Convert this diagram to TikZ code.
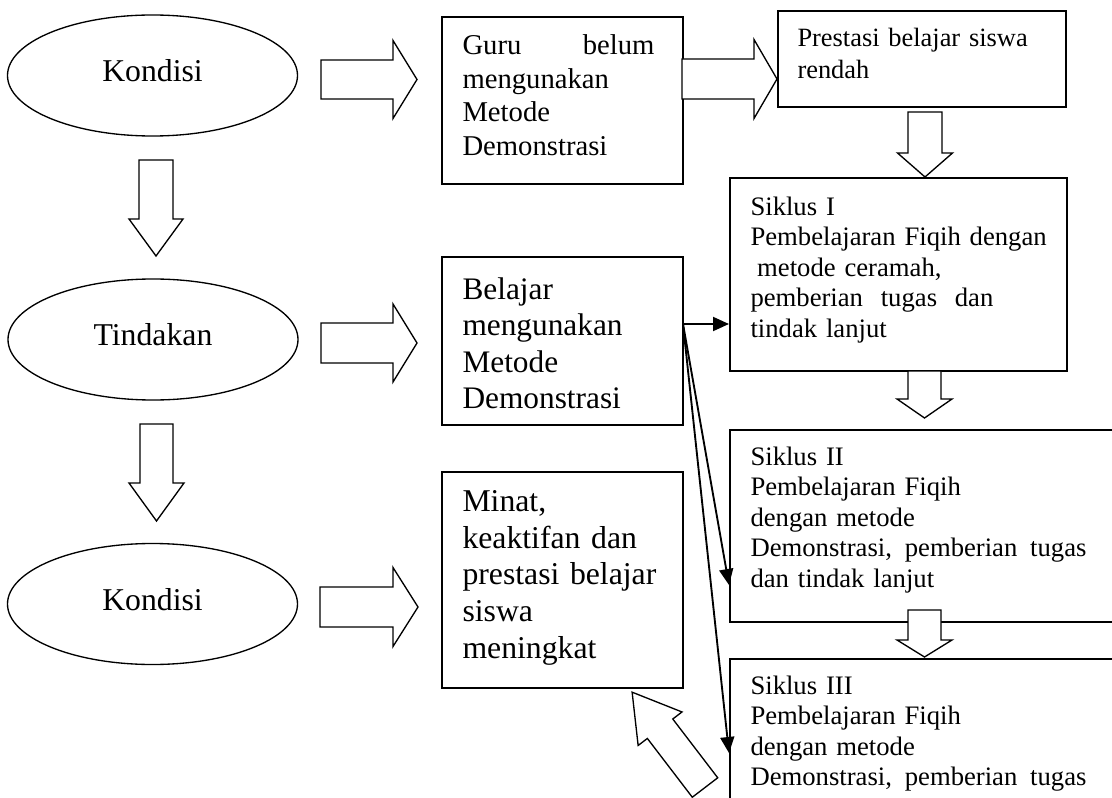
\documentclass[tikz,border=0pt]{standalone}
\usepackage{fontspec}
\setmainfont{Liberation Serif}
\usetikzlibrary{shapes.geometric,arrows.meta}

\tikzset{every picture/.style={line width=0.75pt}}
\tikzset{
  stage/.style={draw, ellipse, line width=1pt, inner sep=0pt,
    minimum width=217.5pt, minimum height=90.75pt,
    font=\fontsize{23.8pt}{27pt}\selectfont, text depth=7.5pt},
  box/.style={draw, line width=1.5pt, inner sep=0pt, anchor=north west},
  boxtext/.style={anchor=north west, inner sep=0pt, align=left},
  outline/.style={draw, fill=white, line width=1pt, line join=miter},
  link/.style={line width=1.4pt, -{Triangle[length=12pt,width=10.5pt]}},
  pics/hollow arrow/.style n args={4}{code={
    \draw[outline] (0,-#3) -- (#1-#2,-#3) -- (#1-#2,-#4) -- (#1,0)
      -- (#1-#2,#4) -- (#1-#2,#3) -- (0,#3) -- cycle;
  }},
}

\begin{document}
\begin{tikzpicture}[x=0.75pt,y=0.75pt,yscale=-1,xscale=1]
	\useasboundingbox (0,0) rectangle (1112,798);
	\clip (0,0) rectangle (1112,798);

	%Shape: Ellipse
	\node[stage] (kondisiA) at (152.5,75.5) {Kondisi};
	%Shape: Ellipse
	\node[stage] (tindakan) at (153,339.5) {Tindakan};
	%Shape: Ellipse
	\node[stage] (kondisiB) at (152.5,604) {Kondisi};

	%Shape: Rectangle
	\node[box, minimum width=180.75pt, minimum height=125.25pt] (guru) at (441,16) {};
	%Shape: Rectangle
	\node[box, minimum width=216pt, minimum height=72pt] (prestasi) at (777,10) {};
	%Shape: Rectangle
	\node[box, minimum width=252.75pt, minimum height=144.75pt] (siklusA) at (729,177) {};
	%Shape: Rectangle
	\node[box, minimum width=180.75pt, minimum height=126pt] (belajar) at (441,256) {};
	%Shape: Rectangle
	\node[box, minimum width=180.75pt, minimum height=162pt] (minat) at (441,471) {};
	%Shape: Rectangle
	\node[box, minimum width=300.75pt, minimum height=144pt] (siklusB) at (729,429) {};
	%Shape: Rectangle
	\node[box, minimum width=300.75pt, minimum height=144pt] (siklusC) at (729,658) {};

	%Right Arrow
	\pic at (321,79.5) {hollow arrow={96}{24}{19.5}{39}};
	%Right Arrow
	\pic at (321,343) {hollow arrow={96}{24}{20}{39}};
	%Right Arrow
	\pic at (320,607) {hollow arrow={98}{25}{20}{39.5}};
	%Right Arrow
	\pic at (682,79) {hollow arrow={95}{23}{20}{39.5}};
	%Down Arrow
	\pic[rotate=-90] at (156,160) {hollow arrow={96}{37}{17}{27}};
	%Down Arrow
	\pic[rotate=-90] at (156.5,424) {hollow arrow={97}{38}{16.5}{27.5}};
	%Down Arrow
	\pic[rotate=-90] at (925,112) {hollow arrow={65}{24}{17}{27.5}};
	%Down Arrow
	\pic[rotate=-90] at (924.5,371) {hollow arrow={47}{19}{16.5}{27.5}};
	%Down Arrow
	\pic[rotate=-90] at (924.5,610) {hollow arrow={47}{17}{16.5}{27.5}};
	%Up Arrow
	\pic[rotate=127.4] at (705,787.5) {hollow arrow={120}{46}{16}{27.6}};

	%Straight Lines
	\coordinate (fork) at (683,324);
	\draw[link] (fork) -- (siklusA.west |- fork);
	\draw[link] (fork) -- (siklusB.west |- 0,585);
	\draw[link] (fork) -- (siklusC.west |- 0,753);

	% Text Node
	\node[boxtext, text width=144pt, font=\fontsize{21.5pt}{25.3pt}\selectfont] (guruText) at (462,34)
		{Guru\hfill belum\\mengunakan\\Metode\\Demonstrasi};
	% Text Node
	\node[boxtext, text width=200pt, font=\fontsize{19.8pt}{24pt}\selectfont] (prestasiText) at (797,28)
		{Prestasi belajar siswa\\rendah};
	% Text Node
	\node[boxtext, text width=240pt, font=\fontsize{20pt}{22.9pt}\selectfont] (siklusAText) at (750,196)
		{Siklus I\\Pembelajaran Fiqih dengan\\\hspace*{0.25em}metode ceramah,\\pemberian\ \ tugas\ \ dan\\tindak lanjut};
	% Text Node
	\node[boxtext, text width=160pt, font=\fontsize{23.5pt}{27.3pt}\selectfont] (belajarText) at (462,277)
		{Belajar\\mengunakan\\Metode\\Demonstrasi};
	% Text Node
	\node[boxtext, text width=160pt, font=\fontsize{23.8pt}{27.5pt}\selectfont] (minatText) at (462,490)
		{Minat,\\keaktifan dan\\prestasi belajar\\siswa\\meningkat};
	% Text Node
	\node[boxtext, text width=252pt, font=\fontsize{20pt}{22.9pt}\selectfont] (siklusBText) at (750,446)
		{Siklus II\\Pembelajaran Fiqih\\dengan metode\\Demonstrasi,\hfill pemberian\hfill tugas\\dan tindak lanjut};
	% Text Node
	\node[boxtext, text width=252pt, font=\fontsize{20pt}{22.9pt}\selectfont] (siklusCText) at (750,675)
		{Siklus III\\Pembelajaran Fiqih\\dengan metode\\Demonstrasi,\hfill pemberian\hfill tugas};

\end{tikzpicture}
\end{document}
